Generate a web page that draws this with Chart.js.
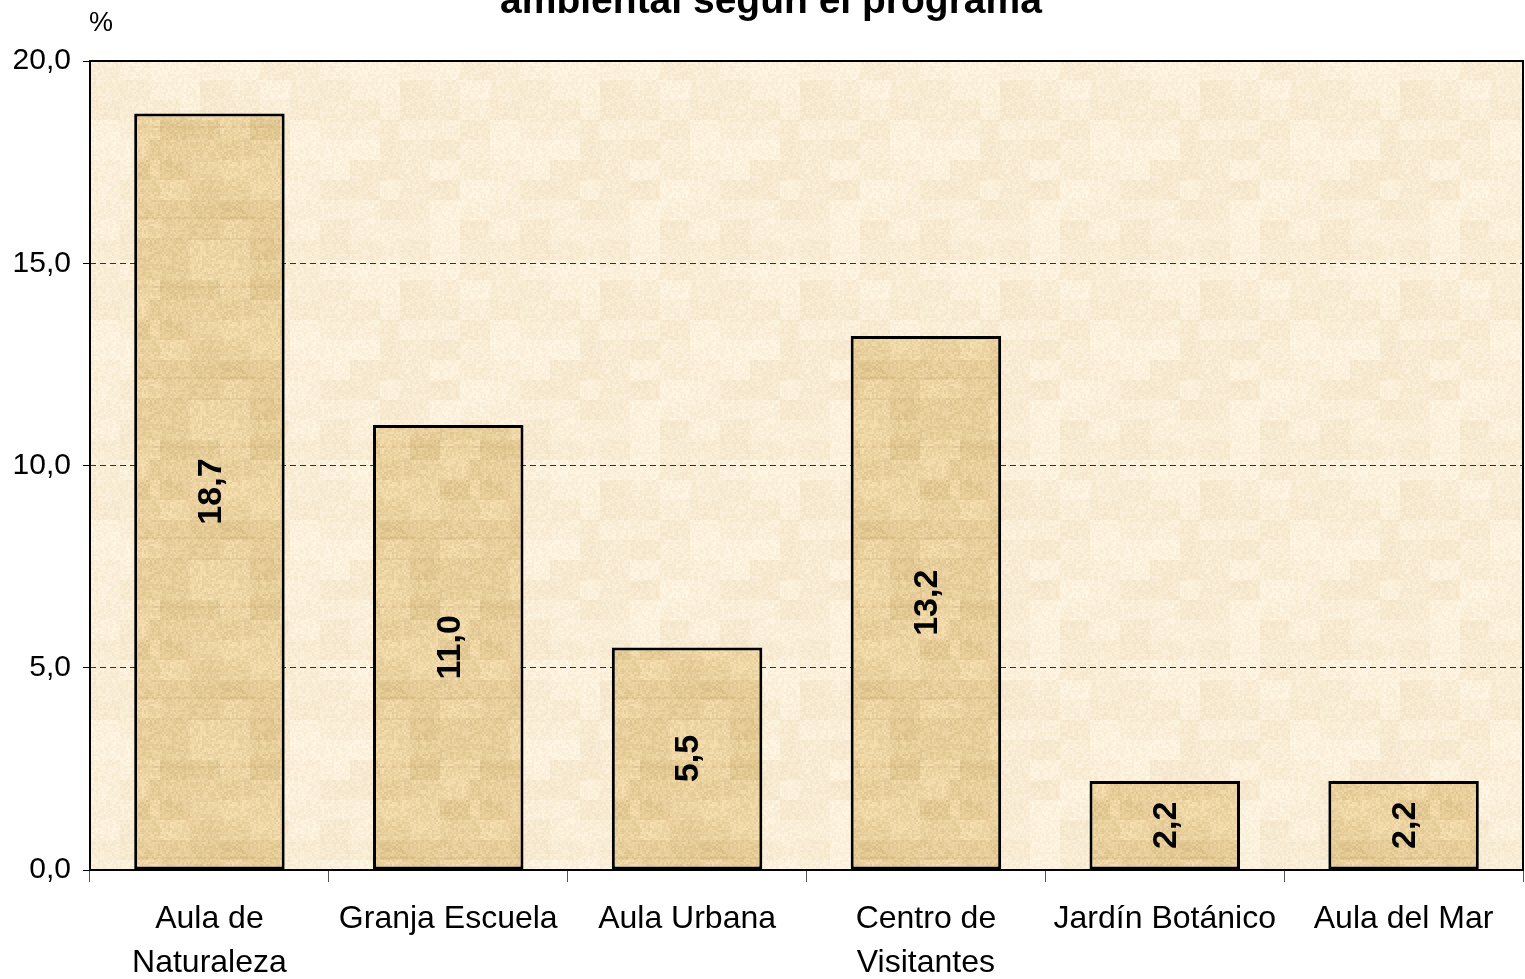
<!DOCTYPE html>
<html>
<head>
<meta charset="utf-8">
<script src="https://cdn.jsdelivr.net/npm/chart.js@4/dist/chart.umd.min.js"></script>
<style>
  html, body { margin: 0; padding: 0; background: #fff; overflow: hidden; }
  #wrap { position: relative; width: 1525px; height: 979px; }
</style>
</head>
<body>
<div id="wrap"><canvas id="chart" width="1525" height="979"></canvas></div>
<script>
// Data
const categories = [['Aula de', 'Naturaleza'], 'Granja Escuela', 'Aula Urbana', ['Centro de', 'Visitantes'], 'Jardín Botánico', 'Aula del Mar'];
const values = [18.7, 11.0, 5.5, 13.2, 2.2, 2.2];
const yTicks = [0, 5, 10, 15, 20];
const titleText = 'ambiental según el programa';
const unitText = '%';

// Format number with comma decimal
function fmt(v) {
    return v.toFixed(1).replace('.', ',');
}

// Small deterministic hash for the parchment texture
function hash(x, y, s) {
    const n = Math.sin(x * 12.9898 + y * 78.233 + s * 37.719) * 43758.5453;
    return n - Math.floor(n);
}

// Build a paper-like texture pattern
function makeTexture(base, spread, size, seed, fibre) {
    const c = document.createElement('canvas');
    c.width = size; c.height = size;
    const g = c.getContext('2d');
    const cell = 2;
    for (let y = 0; y < size; y += cell) {
        for (let x = 0; x < size; x += cell) {
            const blob = (hash(Math.floor(x / 30), Math.floor(y / 20), seed) - 0.5) * 0.6;
            const n = (hash(x, y, seed) - 0.5) * 0.7 + blob;
            const r = Math.round(base[0] + n * spread[0]);
            const gg = Math.round(base[1] + n * spread[1]);
            const b = Math.round(base[2] + n * spread[2]);
            g.fillStyle = 'rgb(' + r + ',' + gg + ',' + b + ')';
            g.fillRect(x, y, cell, cell);
        }
    }
    // faint fibre lines
    if (fibre) {
        g.strokeStyle = 'rgba(190,140,70,0.10)';
        g.lineWidth = 2;
        for (let i = 0; i < 3; i++) {
            const yy = Math.floor(hash(i, 3, seed) * size);
            g.beginPath(); g.moveTo(0, yy); g.lineTo(size, yy); g.stroke();
        }
    }
    return g.createPattern(c, 'repeat');
}

const ctx = document.getElementById('chart').getContext('2d');
const barPattern = makeTexture([232, 207, 156], [24, 28, 36], 160, 1, true);
const bgPattern = makeTexture([249, 237, 214], [10, 16, 26], 200, 7, false);

// Plot area background, frame, title and value labels
const decorPlugin = {
    id: 'decor',
    beforeDraw(chart) {
        const a = chart.chartArea;
        const c = chart.ctx;
        c.save();
        c.fillStyle = bgPattern;
        c.fillRect(a.left, a.top, a.right - a.left, a.bottom - a.top);
        c.restore();
    },
    afterDatasetsDraw(chart) {
        const a = chart.chartArea;
        const c = chart.ctx;
        c.save();
        // frame
        c.strokeStyle = '#000';
        c.lineWidth = 2;
        c.strokeRect(a.left, a.top, a.right - a.left, a.bottom - a.top);
        // value labels, rotated
        const meta = chart.getDatasetMeta(0);
        c.fillStyle = '#000';
        c.font = 'bold 34px "Liberation Sans", Arial, sans-serif';
        c.textAlign = 'center';
        c.textBaseline = 'middle';
        meta.data.forEach((bar, i) => {
            const cy = (bar.y + bar.base) / 2;
            c.save();
            c.translate(bar.x, cy);
            c.rotate(-Math.PI / 2);
            c.fillText(fmt(values[i]), 0, 2);
            c.restore();
        });
        // title (top line is cut off in the original)
        c.font = 'bold 39px "Liberation Sans", Arial, sans-serif';
        c.textAlign = 'center';
        c.textBaseline = 'alphabetic';
        c.fillText(titleText, 771, 13);
        // unit
        c.font = '27px "Liberation Sans", Arial, sans-serif';
        c.fillText(unitText, 101, 31);
        c.restore();
    }
};

new Chart(ctx, {
    type: 'bar',
    data: {
        labels: categories,
        datasets: [{
            data: values,
            backgroundColor: barPattern,
            borderColor: '#000',
            borderWidth: 3,
            borderSkipped: false,
            categoryPercentage: 1.0,
            barPercentage: 0.63
        }]
    },
    options: {
        responsive: false,
        animation: false,
        events: [],
        layout: { padding: { top: 61, right: 2, left: 0, bottom: 0 } },
        plugins: {
            legend: { display: false },
            title: { display: false },
            tooltip: { enabled: false }
        },
        scales: {
            y: {
                min: 0,
                max: 20,
                afterFit(scale) { scale.width = 90; },
                afterBuildTicks(scale) { scale.ticks = yTicks.map(v => ({ value: v })); },
                ticks: {
                    callback: v => fmt(v),
                    color: '#000',
                    font: { family: '"Liberation Sans", Arial, sans-serif', size: 30 },
                    padding: 12
                },
                border: { display: false, dash: [6, 4] },
                grid: {
                    color: ctx => (ctx.tick && (ctx.tick.value === 0 || ctx.tick.value === 20)) ? 'rgba(0,0,0,0)' : '#333',
                    lineWidth: 1,
                    tickColor: '#000',
                    tickLength: 7,
                    tickBorderDash: []
                }
            },
            x: {
                afterFit(scale) { scale.height = 109; },
                ticks: {
                    color: '#000',
                    font: { family: '"Liberation Sans", Arial, sans-serif', size: 32, lineHeight: 1.38 },
                    padding: 15,
                    maxRotation: 0,
                    autoSkip: false
                },
                border: { display: false },
                grid: {
                    offset: true,
                    drawOnChartArea: false,
                    drawTicks: true,
                    tickLength: 12,
                    tickColor: '#555',
                    lineWidth: 1
                }
            }
        }
    },
    plugins: [decorPlugin]
});
</script>
</body>
</html>
